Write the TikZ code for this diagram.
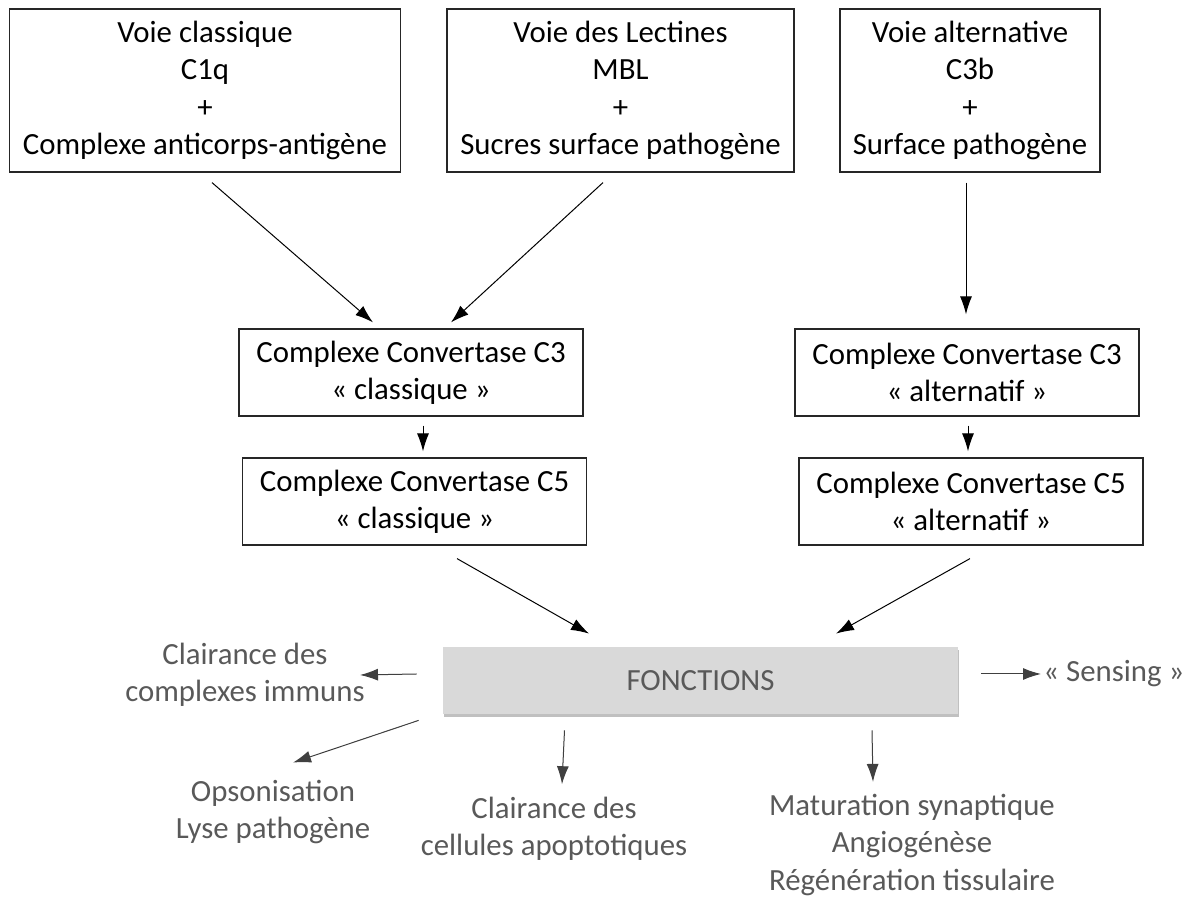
\documentclass[tikz,border=0pt]{standalone}
\usepackage{fontspec}
\setmainfont{Carlito}
\usetikzlibrary{arrows.meta,shadows}
\definecolor{txtgray}{HTML}{595959}
\definecolor{arrgray}{HTML}{404040}
\definecolor{boxgray}{HTML}{D9D9D9}

\begin{document}
\begin{tikzpicture}[x=0.5pt,y=-0.5pt,
   every node/.style={font=\fontsize{15.4pt}{18.7pt}\selectfont, align=center, inner sep=0pt},
   voie/.style={draw=black!85, line width=0.6pt, minimum height=81.5pt},
   conv/.style={draw=black!85, line width=0.6pt, minimum width=172pt, minimum height=43.5pt},
   fonc/.style={text=txtgray},
   arr/.style={-{Latex[length=9pt,width=6pt]}, line width=0.5pt},
   farr/.style={arr, draw=arrgray, fill=arrgray}]
   \useasboundingbox (0,0) rectangle (1191,897);

   % les trois voies
   \node[voie, minimum width=195.5pt] (cla) at (205,90.5) {Voie classique\\C1q\\+\\Complexe anticorps-antigène};
   \node[voie, minimum width=173.5pt] (lec) at (620.5,90.5) {Voie des Lectines\\MBL\\+\\Sucres surface pathogène};
   \node[voie, minimum width=130pt] (alt) at (970,90.5) {Voie alternative\\C3b\\+\\Surface pathogène};

   % convertases
   \node[conv] (c3c) at (411,372.5) {Complexe Convertase C3\\«~classique~»};
   \node[conv] (c3a) at (967,372.5) {Complexe Convertase C3\\«~alternatif~»};
   \node[conv] (c5c) at (414.5,501.5) {Complexe Convertase C5\\«~classique~»};
   \node[conv] (c5a) at (971,501.5) {Complexe Convertase C5\\«~alternatif~»};

   \node[fill=boxgray, text=txtgray, minimum width=257.5pt, minimum height=33.5pt,
         drop shadow={shadow xshift=0.6pt, shadow yshift=-1.3pt, fill=black!55, opacity=0.45}] (fn) at (700.5,680.5) {FONCTIONS};

   % fonctions
   \node[fonc, anchor=east] (immuns) at (365,675) {Clairance des\\complexes immuns};
   \node[fonc] (opso) at (273,812) {Opsonisation\\Lyse pathogène};
   \node[fonc] (apopt) at (554,828.5) {Clairance des\\cellules apoptotiques};
   \node[fonc] (tissu) at (912,845) {Maturation synaptique\\Angiogénèse\\Régénération tissulaire};
   \node[fonc, anchor=west] (sensing) at (1043,674) {«~Sensing~»};

   \draw[arr] ([xshift=3.5pt,yshift=-5pt]cla.south) -- ([xshift=-19pt,yshift=3pt]c3c.north);
   \draw[arr] ([xshift=-8.75pt,yshift=-5pt]lec.south) -- ([xshift=20pt,yshift=3pt]c3c.north);
   \draw[arr] ([xshift=-2pt,yshift=-5pt]alt.south) -- ([xshift=-0.5pt,yshift=7pt]c3a.north);
   \draw[arr] ([xshift=6pt,yshift=-4.5pt]c3c.south) -- ([xshift=4.25pt,yshift=3pt]c5c.north);
   \draw[arr] ([xshift=0.5pt,yshift=-4.5pt]c3a.south) -- ([xshift=-1.5pt,yshift=3pt]c5a.north);
   \draw[arr] ([xshift=21.25pt,yshift=-6.5pt]c5c.south) -- ([xshift=-55.75pt,yshift=6.5pt]fn.north);
   \draw[arr] ([xshift=-0.5pt,yshift=-6.5pt]c5a.south) -- ([xshift=67.75pt,yshift=6.5pt]fn.north);

   \draw[farr] ([xshift=-13pt,yshift=3.25pt]fn.west) -- ([xshift=-2.5pt]immuns.east);
   \draw[farr] ([xshift=-12pt,yshift=-3pt]fn.south west) -- ([xshift=10pt,yshift=8.5pt]opso.north);
   \draw[farr] ([xshift=-68pt,yshift=-8pt]fn.south) -- ([xshift=4pt,yshift=6pt]apopt.north);
   \draw[farr] ([xshift=85.75pt,yshift=-8pt]fn.south) -- ([xshift=-19.5pt,yshift=6pt]tissu.north);
   \draw[farr] ([xshift=11.5pt,yshift=3.25pt]fn.east) -- ([xshift=-1pt]sensing.west);
\end{tikzpicture}
\end{document}
